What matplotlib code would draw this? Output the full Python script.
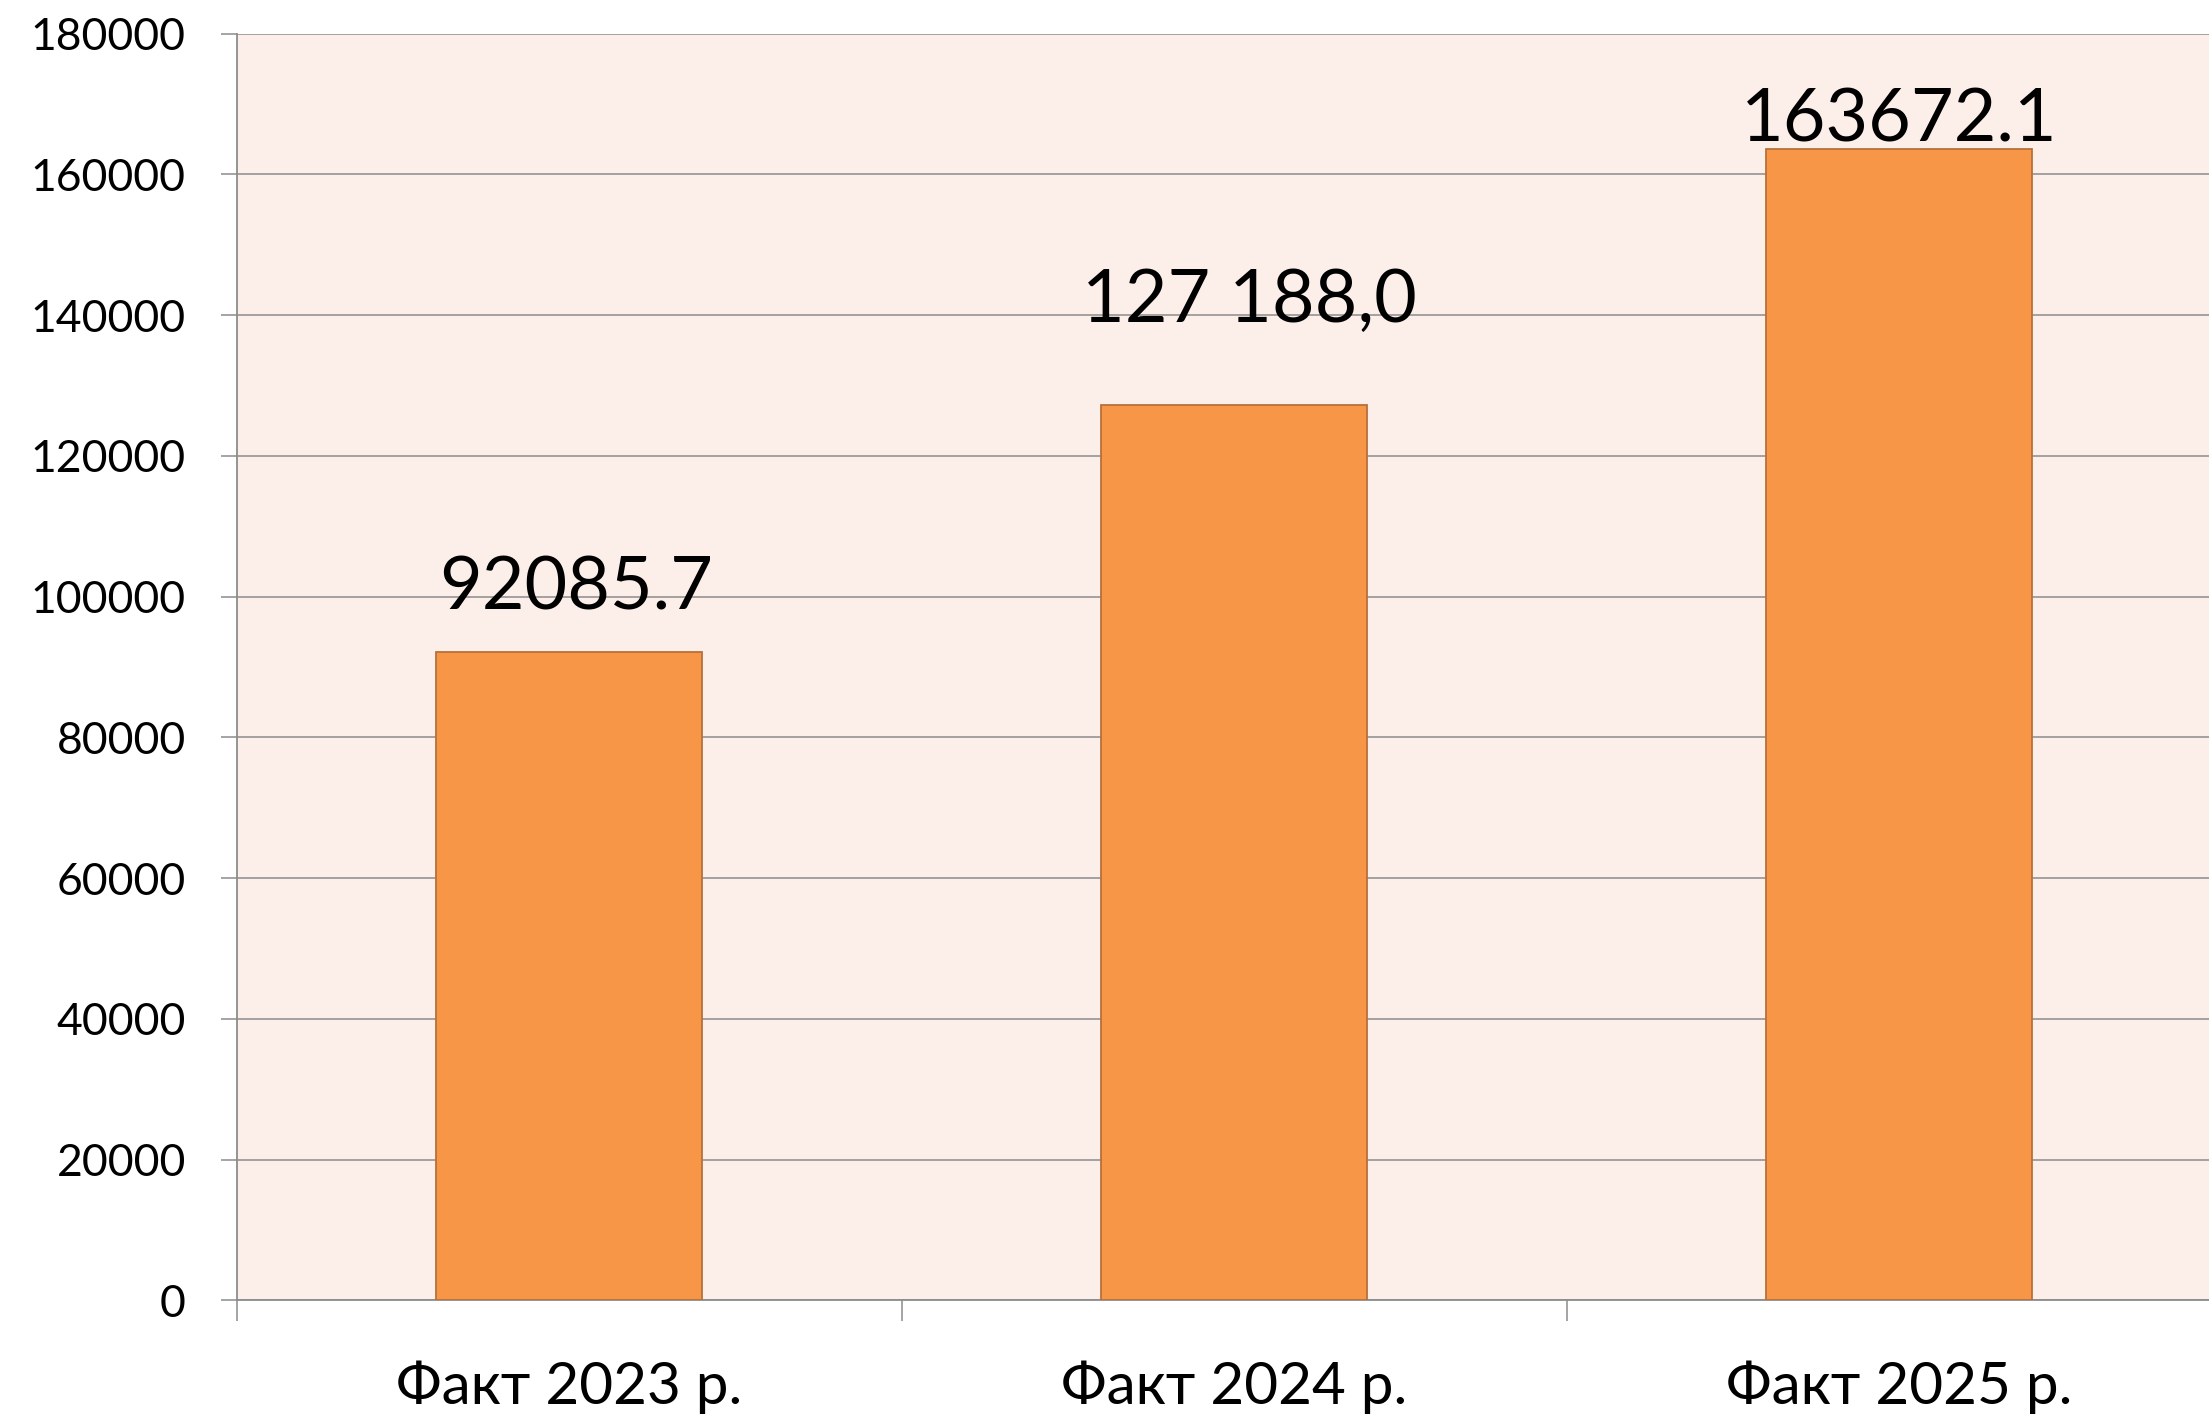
import matplotlib.pyplot as plt
import numpy as np

plt.rcParams['font.family'] = ['Lato', 'DejaVu Sans']

# data
categories = ['Факт 2023 р.', 'Факт 2024 р.', 'Факт 2025 р.']
values = [92085.7, 127188.0, 163672.1]
value_labels = ['92085.7', '127 188,0', '163672.1']
y_ticks = list(range(0, 180001, 20000))

# label placement (offset from bar top, points) - labels were hand-placed in the original
label_dx = [5, 11, 0]
label_dy = [31, 60, 5]

BAR = '#F79646'
EDGE = '#B8703A'
BG = '#FCEEE9'
GRID = '#8C8C8C'

fig = plt.figure(figsize=(22.09, 14.18), dpi=100)
ax = fig.add_axes([0.1071, 0.0830, 0.8929, 0.8932])
ax.set_facecolor(BG)

x = np.arange(len(categories))
ax.bar(x, values, width=0.4, color=BAR, edgecolor=EDGE, linewidth=1.3, zorder=3)

for i, (v, lab) in enumerate(zip(values, value_labels)):
    ax.annotate(lab, (x[i], v), xytext=(label_dx[i], label_dy[i]),
                textcoords='offset points', ha='center', va='baseline',
                fontsize=53, color='black', zorder=4)

ax.set_ylim(0, 180000)
ax.set_xlim(-0.5, -0.5 + (2209 - 236.7) / 665)
ax.set_yticks(y_ticks)
ax.set_yticklabels([str(t) for t in y_ticks])
ax.yaxis.grid(True, color=GRID, linewidth=1.1, zorder=1)
ax.set_axisbelow(True)

ax.set_xticks(x)
ax.set_xticklabels(categories)
ax.set_xticks(np.arange(len(categories)) - 0.5, minor=True)

for s in ['top', 'right']:
    ax.spines[s].set_visible(False)
for s in ['left', 'bottom']:
    ax.spines[s].set_color(GRID)
    ax.spines[s].set_linewidth(1.3)

ax.tick_params(axis='y', length=11.5, width=1.1, color=GRID, pad=25, labelsize=32)
ax.tick_params(axis='x', which='major', length=0, pad=43, labelsize=42)
ax.tick_params(axis='x', which='minor', length=15, width=1.1, color=GRID)

fig.savefig('out.png', dpi=100, facecolor='white')
